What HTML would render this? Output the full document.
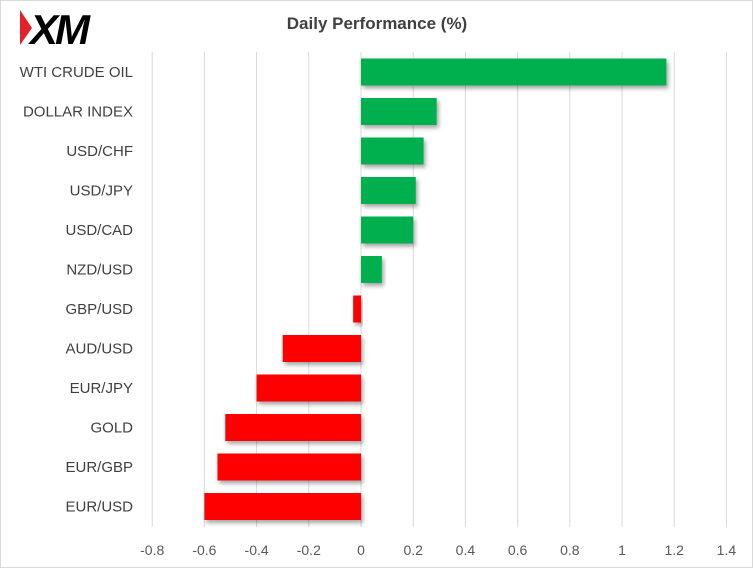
<!DOCTYPE html>
<html><head><meta charset="utf-8"><style>
html,body{margin:0;padding:0;background:#fff}
#c{position:relative;width:753px;height:568px;overflow:hidden;font-family:"Liberation Sans",sans-serif}
</style></head><body>
<div id="c">
<svg id="s" width="753" height="568">
<defs><filter id="sh" x="-10%" y="-10%" width="130%" height="150%"><feDropShadow dx="2" dy="3" stdDeviation="2" flood-color="#000" flood-opacity="0.35"/></filter></defs>
<rect x="0.5" y="0.5" width="752" height="567" fill="#fff" stroke="#d9d9d9"/>
<g>
<polygon points="20,10 32,28 20,45" fill="#e4202a"/>
<text x="30" y="44" font-size="42" font-weight="bold" font-style="italic" fill="#000" font-family="Liberation Sans, sans-serif" letter-spacing="-3">XM</text>
</g>
<text x="377" y="29" text-anchor="middle" font-size="17" font-weight="bold" fill="#404040">Daily Performance  (%)</text>
<g id="grid"></g><g id="bars"></g><g id="labels"></g><g id="ticks"></g>
</svg>
</div>
<script>
const categories=["WTI CRUDE OIL","DOLLAR INDEX","USD/CHF","USD/JPY","USD/CAD","NZD/USD","GBP/USD","AUD/USD","EUR/JPY","GOLD","EUR/GBP","EUR/USD"];
const values=[1.17,0.29,0.24,0.21,0.20,0.08,-0.03,-0.30,-0.40,-0.52,-0.55,-0.60];
const tickValues=[-0.8,-0.6,-0.4,-0.2,0,0.2,0.4,0.6,0.8,1,1.2,1.4];
const tickLabels=["-0.8","-0.6","-0.4","-0.2","0","0.2","0.4","0.6","0.8","1","1.2","1.4"];
const NS="http://www.w3.org/2000/svg";
const x=v=>361+v*261;
const rowY=i=>72+i*39.5;
function mk(t,a,p){const e=document.createElementNS(NS,t);for(const k in a)e.setAttribute(k,a[k]);p.appendChild(e);return e;}
const g=document.getElementById('grid'),b=document.getElementById('bars'),l=document.getElementById('labels'),tk=document.getElementById('ticks');
tickValues.forEach((v,i)=>{
 const ln=mk('line',{x1:x(v),x2:x(v),y1:52,y2:527,stroke:'#d9d9d9','stroke-width':1},g);
 
 
 const t=mk('text',{x:x(v),y:555,'text-anchor':'middle','font-size':14,fill:'#595959'},tk);
 t.textContent=tickLabels[i];
 
 
});
categories.forEach((c,i)=>{
 const v=values[i],cy=rowY(i);
 const r=mk('rect',{x:Math.min(x(0),x(v)),y:cy-13.5,width:Math.abs(x(v)-x(0)),height:27,fill:v>=0?'#00b050':'#ff0000',filter:'url(#sh)'},b);
 
 
 const t=mk('text',{x:133,y:cy+5,'text-anchor':'end','font-size':15,fill:'#404040'},l);
 t.textContent=c;
 
 
});
</script>
</body></html>
